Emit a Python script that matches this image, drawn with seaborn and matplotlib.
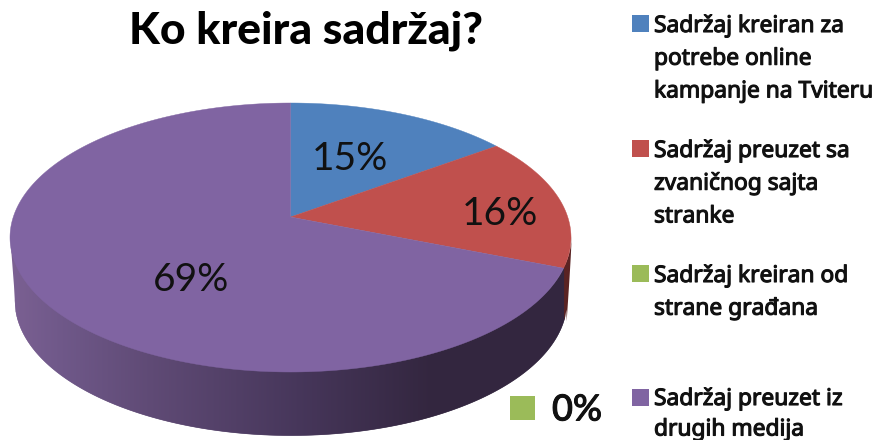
import numpy as np
import matplotlib
matplotlib.use("Agg")
import matplotlib.pyplot as plt
import matplotlib.patheffects as pe
from matplotlib.colors import to_rgb
import seaborn as sns

title = "Ko kreira sadržaj?"
categories = ["Sadržaj kreiran za\npotrebe online\nkampanje na Tviteru",
              "Sadržaj preuzet sa\nzvaničnog sajta\nstranke",
              "Sadržaj kreiran od\nstrane građana",
              "Sadržaj preuzet iz\ndrugih medija"]
shares = [15, 16, 0, 69]
colors = ["#4f81bd", "#c0504d", "#9bbb59", "#8064a2"]

sns.set_theme(style="white")
palette = sns.color_palette(colors)
plt.rcParams["font.family"] = ["Lato", "DejaVu Sans"]

fig, ax = plt.subplots(figsize=(8.78, 4.40), dpi=100)
ax.set_position([0, 0, 1, 1])
ax.set_xlim(0, 878)
ax.set_ylim(440, 0)
ax.axis("off")

CX, CY, RX, RY = 290.5, 237.5, 280.5, 134.5
E = (CY - 217) / RY


def project(frac):
    """Perspective view of a unit circle: fraction clockwise from the top -> pixels."""
    t = 2 * np.pi * np.asarray(frac)
    x, y = np.sin(t), np.cos(t)
    d = 1 + E * y
    return CX + RX * x * np.sqrt(1 - E ** 2) / d, CY - RY * (y + E) / d


def top_edge(x):
    return CY + RY * np.sqrt(np.clip(1 - ((x - CX) / RX) ** 2, 0, 1))


def wall_edge(x):
    rx, ry, cy = 276, 135, 300
    return cy + ry * np.sqrt(np.clip(1 - ((x - CX) / rx) ** 2, 0, 1))


# side wall, shaded column by column
stops_x = [10, 60, 150, 300, 430, 565]
stops_c = [to_rgb(c) for c in ["#7b6092", "#6f5889", "#5f4a75", "#46365a", "#33263f", "#33263f"]]
split = project(sum(shares[:3]) / 100)[0]
xs = np.arange(14.5, 564, 1.0)
for x0 in xs:
    seg = np.array([x0, x0 + 1.0])
    c = [np.interp(x0, stops_x, [s[i] for s in stops_c]) for i in range(3)]
    ax.fill_between(seg, top_edge(seg) - 1, wall_edge(seg), color=c, lw=0.4, zorder=1)
seg = np.linspace(10, 15, 12)
ax.fill_between(seg, top_edge(seg) - 1, 240 + (seg - 10) * 13, color=stops_c[0], lw=0, zorder=1)
seg = np.linspace(split, 571, 30)
ax.fill_between(seg, top_edge(seg) - 2,
                np.where(seg < 566, wall_edge(seg), top_edge(seg) + (571 - seg) * 12),
                color="#5a2323", lw=0, zorder=1)

# top face
cum = 0
apex_x, apex_y = CX, CY - RY * E
for share, col in zip(shares, palette):
    if share:
        fr = np.linspace(cum, cum + share, 400) / 100
        px, py = project(fr)
        ax.fill(np.r_[apex_x, px], np.r_[apex_y, py], color=col, lw=0.3, zorder=2)
    cum += share

# value labels
for txt, lx, ly in zip(["15%", "16%", "69%"], [350, 500, 191], [159, 214, 280]):
    ax.text(lx, ly, txt, fontsize=28, color="#111111", ha="center", va="center", zorder=3)

ax.text(306.5, 31, title, fontsize=32, fontweight="black", color="black", ha="center", va="center")

# legend
for col, lab, mid in zip(palette, categories, [24, 149, 274, 398]):
    ax.fill_between([632, 649], mid - 8.5, mid + 8, color=col, lw=0)
    for i, line in enumerate(lab.split("\n")):
        ax.text(654, mid + 1 + i * 30.5 if mid == 398 else mid + 2 + i * 32.7, line,
                fontsize=16.4, family=["Noto Sans"],
                color="#111111", ha="left", va="center",
                path_effects=[pe.withStroke(linewidth=0.8, foreground="#111111")])

# small marker for the zero share
ax.fill_between([510, 535], 396, 420, color=palette[2], lw=0)
ax.text(552, 410, f"{shares[2]}%", fontsize=26, fontweight="medium", color="#111111", ha="left", va="center",
        path_effects=[pe.withStroke(linewidth=0.7, foreground="#111111")])

fig.savefig("out.png", dpi=100, facecolor="white")
